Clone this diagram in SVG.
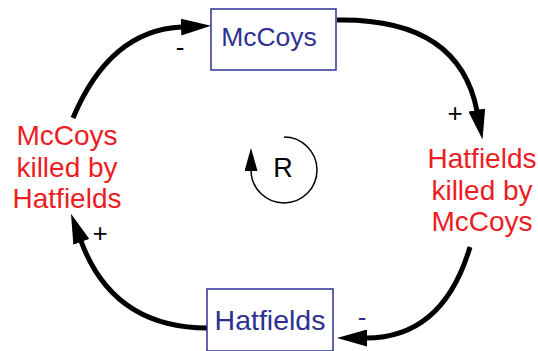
<svg xmlns="http://www.w3.org/2000/svg" width="538" height="351" viewBox="0 0 538 351">
<style>
.box{fill:#fff;stroke:#2e3192;stroke-width:1.5}
.stock{font-family:"Liberation Sans",Arial,sans-serif;font-size:27px;fill:#2e3192;text-anchor:middle}
.var{font-family:"Liberation Sans",Arial,sans-serif;font-size:28px;fill:#ed1c24;text-anchor:middle}
.link{fill:none;stroke:#000;stroke-width:5}
.sign{font-family:"Liberation Sans",Arial,sans-serif;font-size:26px;fill:#000;text-anchor:middle}
.loop{fill:none;stroke:#000;stroke-width:1.5}
</style>
<defs>
<marker id="ah" viewBox="0 0 30 17" refX="1" refY="8.5" markerWidth="30" markerHeight="17" orient="auto" markerUnits="userSpaceOnUse">
<path d="M0,0 L30,8.5 L0,17 z" fill="#000"/>
</marker>
<marker id="ahs" viewBox="0 0 23 13" refX="1" refY="6.5" markerWidth="23" markerHeight="13" orient="auto" markerUnits="userSpaceOnUse">
<path d="M0,0 L23,6.5 L0,13 z" fill="#000"/>
</marker>
</defs>
<g id="connectors">
<path class="link" d="M73,118 Q110,30 182,27" marker-end="url(#ah)"/>
<path class="link" d="M337,20 Q459,18 477,111" marker-end="url(#ah)"/>
<path class="link" d="M470,247 Q443,338 366,338" marker-end="url(#ah)"/>
<path class="link" d="M208,328 Q113,328 81,241" marker-end="url(#ah)"/>
</g>
<g id="McCoys">
<rect class="box" x="211" y="9" width="125" height="61"/>
<text class="stock" x="269" y="46" style="font-size:26.5px">McCoys</text>
</g>
<g id="Hatfields">
<rect class="box" x="207" y="289" width="126" height="62"/>
<text class="stock" x="270" y="330" style="font-size:28.5px">Hatfields</text>
</g>
<g id="HatfieldsKilled">
<text class="var" x="482" y="168">Hatfields</text>
<text class="var" x="482" y="199.5">killed by</text>
<text class="var" x="482" y="231">McCoys</text>
</g>
<g id="McCoysKilled">
<text class="var" x="67" y="145">McCoys</text>
<text class="var" x="67" y="176.5">killed by</text>
<text class="var" x="67" y="208">Hatfields</text>
</g>
<g id="signs">
<text class="sign" x="180" y="56">-</text>
<text class="sign" x="455" y="122">+</text>
<text class="sign" x="100" y="242">+</text>
<text class="sign" x="362" y="326" style="fill:#2e3192">-</text>
</g>
<g id="loop">
<path class="loop" d="M284,137 A33,33 0 1 1 251,170" marker-end="url(#ahs)"/>
<text x="283" y="177" style="font-family:'Liberation Sans',Arial,sans-serif;font-size:27px;fill:#000;text-anchor:middle">R</text>
</g>
</svg>
